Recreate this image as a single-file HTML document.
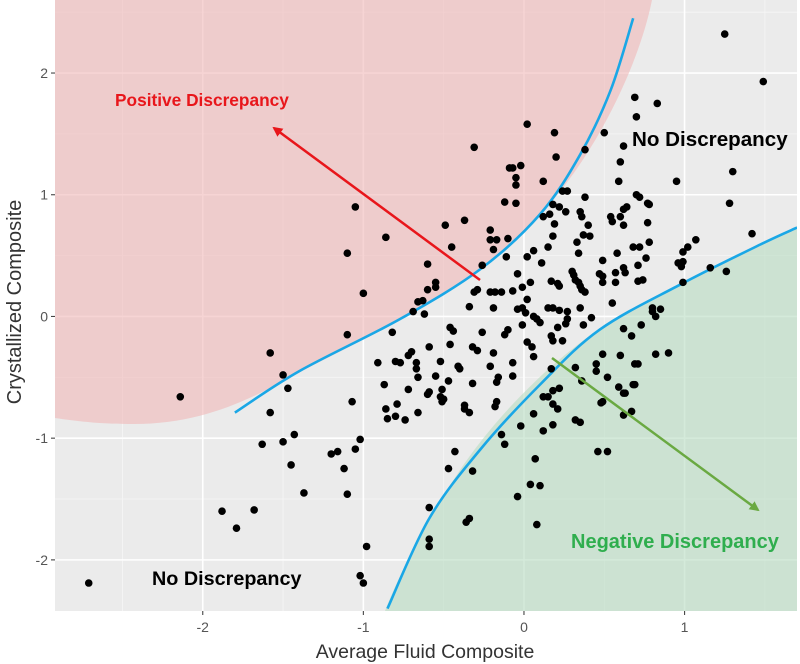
<!DOCTYPE html>
<html><head><meta charset="utf-8"><style>
html,body{margin:0;padding:0;background:#fff;}
svg{display:block;font-family:"Liberation Sans",Arial,sans-serif;}
</style></head><body>
<svg id="chart" width="800" height="664" viewBox="0 0 800 664">
<defs>
<clipPath id="panelClip"><rect x="55" y="0" width="742" height="611"/></clipPath>
<marker id="redHead" markerWidth="10" markerHeight="10" refX="8" refY="5" orient="auto" markerUnits="userSpaceOnUse"><path d="M0,0 L10,5 L0,10 z" fill="#e8161b"/></marker>
<marker id="greenHead" markerWidth="10" markerHeight="10" refX="8" refY="5" orient="auto" markerUnits="userSpaceOnUse"><path d="M0,0 L10,5 L0,10 z" fill="#6aa942"/></marker>
</defs>
<rect x="55" y="0" width="742" height="611" fill="#ebebeb"/>
<g id="grid"></g>
<g clip-path="url(#panelClip)">
<path d="M55,0 L652,0 C640,60 600,150 540,215 C470,290 400,320 300,372 C250,400 200,425 130,424 C100,424 75,421 55,418 Z" fill="#f0b8b8" opacity="0.6"/>
<path d="M797,226 C760,245 700,275 640,305 C570,340 500,410 460,470 C420,530 395,585 385,611 L797,611 Z" fill="#b7dcc2" opacity="0.6"/>
<g id="curves"></g>
<g id="points"></g>
</g>
<line x1="480" y1="280" x2="274" y2="128" stroke="#e8161b" stroke-width="2.5" marker-end="url(#redHead)"/>
<line x1="552" y1="358" x2="758" y2="510" stroke="#6aa942" stroke-width="2.5" marker-end="url(#greenHead)"/>
<text x="115" y="106" font-size="17.3" font-weight="bold" fill="#e8161b">Positive Discrepancy</text>
<text x="632" y="146" font-size="20.6" font-weight="bold" fill="#000">No Discrepancy</text>
<text x="152" y="585" font-size="19.8" font-weight="bold" fill="#000">No Discrepancy</text>
<text x="571" y="548" font-size="20" font-weight="bold" fill="#2fae4e">Negative Discrepancy</text>
<g id="axes"></g>
<text x="425" y="658" font-size="19.5" fill="#333" text-anchor="middle">Average Fluid Composite</text>
<text transform="translate(21,302) rotate(-90)" font-size="20" fill="#333" text-anchor="middle">Crystallized Composite</text>
</svg>
<script>
const xTicks = [-2, -1, 0, 1];
const yTicks = [-2, -1, 0, 1, 2];
const xVals = [-2.71,-2.14,-1.88,-1.79,-1.68,-1.58,-1.50,-1.47,-1.58,-1.63,-1.50,-1.45,-1.43,-1.37,-1.20,-1.16,-1.12,-1.10,-1.10,-1.10,-1.05,-1.07,-1.00,-1.02,-1.00,-0.98,-1.02,-1.05,-0.86,-0.91,-0.87,-0.86,-0.85,-0.79,-0.77,-0.74,-0.70,-0.69,-0.66,-0.60,-0.60,-0.55,-0.59,-0.59,-0.59,-0.59,-0.59,-0.55,-0.51,-0.50,-0.52,-0.45,-0.43,-0.37,-0.47,-0.36,-0.34,-0.32,-0.31,-0.37,-0.21,-0.21,-0.17,-0.19,-0.09,-0.07,-0.05,-0.05,-0.02,-0.05,0.02,0.19,0.20,0.38,0.50,0.62,0.60,0.69,0.70,0.83,0.95,1.25,1.49,1.30,1.28,1.07,1.02,0.99,1.16,1.26,1.42,0.99,0.82,0.85,0.82,0.69,0.69,0.63,0.52,0.48,0.62,0.46,0.52,0.32,0.35,0.18,0.15,0.06,-0.02,0.12,-0.14,-0.12,-0.04,0.04,0.10,0.07,0.08,
0.12,-0.12,0.59,0.24,0.27,0.38,0.18,0.22,0.26,0.35,0.36,0.12,0.16,0.19,0.40,0.18,0.37,0.41,0.33,0.34,0.64,0.62,0.60,0.62,0.70,0.72,0.77,0.78,0.54,0.55,0.77,0.78,0.72,0.68,0.58,0.49,0.76,0.71,0.62,0.63,0.57,0.47,0.49,0.57,0.49,0.71,0.74,0.55,0.02,0.06,0.11,0.15,0.30,0.31,0.32,0.34,0.35,0.36,0.38,0.17,0.21,0.22,0.04,-0.04,-0.01,-0.07,-0.14,-0.18,-0.21,-0.29,-0.31,-0.19,-0.34,0.02,-0.04,-0.01,0.01,0.15,0.18,0.22,0.27,0.35,0.42,0.37,0.27,0.26,0.21,0.06,0.08,0.10,-0.01,-0.10,-0.12,-0.26,-0.46,-0.44,-0.46,-0.32,-0.29,-0.19,0.02,0.05,0.06,0.17,0.18,0.24,-0.07,-0.07,-0.21,-0.16,-0.17,-0.32,-0.41,-0.40,-0.55,-0.47,-0.67,-0.67,-0.66,-0.72,-0.80,-0.72,-0.60,-0.52,-0.51,-0.80,-0.66,-0.37,-0.17,-0.18,-0.34,
0.62,0.67,0.73,0.49,0.60,0.45,0.45,0.71,0.90,0.32,0.17,0.36,0.68,0.59,0.62,0.22,0.18,0.12,0.18,0.21,0.49,0.67,0.80,0.80,0.99,0.96,0.98,
-0.49,-0.63,-0.62,-0.82,-0.10,-0.26,-0.11];
const yVals = [-2.19,-0.66,-1.60,-1.74,-1.59,-0.30,-0.48,-0.59,-0.79,-1.05,-1.03,-1.22,-0.97,-1.45,-1.13,-1.11,-1.25,-1.46,-0.15,0.52,0.90,-0.70,0.19,-2.13,-2.19,-1.89,-1.01,-1.09,0.65,-0.38,-0.56,-0.76,-0.84,-0.72,-0.38,-0.85,-0.29,0.04,0.12,0.43,0.22,0.24,-0.62,-0.25,-1.57,-1.83,-1.89,0.28,-0.60,-0.68,-0.37,0.57,-1.11,-0.76,-1.25,-1.69,-1.66,-1.27,1.39,0.79,0.71,0.63,0.63,0.55,1.22,1.22,1.14,1.08,1.24,0.93,1.58,1.51,1.31,1.37,1.51,1.40,1.27,1.80,1.64,1.75,1.11,2.32,1.93,1.19,0.93,0.63,0.57,0.45,0.40,0.37,0.68,0.28,0.00,0.06,-0.31,-0.39,-0.56,-0.63,-0.50,-0.71,-0.81,-1.11,-1.11,-0.85,-0.87,-0.89,-0.66,-0.80,-0.90,-0.94,-0.97,-1.05,-1.48,-1.38,-1.39,-1.17,-1.71,
1.11,0.94,1.11,1.03,1.03,0.98,0.92,0.90,0.86,0.86,0.82,0.82,0.84,0.76,0.75,0.66,0.67,0.66,0.61,0.52,0.90,0.88,0.82,0.75,1.00,0.98,0.93,0.92,0.82,0.78,0.77,0.61,0.57,0.57,0.52,0.46,0.48,0.42,0.40,0.36,0.36,0.35,0.33,0.28,0.28,0.29,0.30,0.11,0.49,0.54,0.44,0.57,0.37,0.34,0.30,0.28,0.25,0.22,0.20,0.29,0.27,0.25,0.28,0.35,0.24,0.21,0.20,0.20,0.20,0.22,0.20,0.07,0.08,0.14,0.06,0.07,0.03,0.07,0.07,0.05,0.04,0.07,-0.01,-0.07,-0.02,-0.06,-0.09,0.00,-0.02,-0.05,-0.07,-0.11,-0.15,-0.13,-0.09,-0.12,-0.23,-0.25,-0.28,-0.30,-0.21,-0.25,-0.33,-0.16,-0.20,-0.20,-0.38,-0.49,-0.41,-0.50,-0.54,-0.55,-0.41,-0.43,-0.49,-0.53,-0.38,-0.43,-0.50,-0.32,-0.37,-0.60,-0.64,-0.66,-0.70,-0.82,-0.79,-0.73,-0.70,-0.74,-0.79,
-0.10,-0.16,-0.07,-0.31,-0.32,-0.39,-0.45,-0.39,-0.30,-0.42,-0.43,-0.53,-0.56,-0.58,-0.63,-0.59,-0.61,-0.66,-0.72,-0.76,-0.70,-0.78,0.07,0.04,0.53,0.44,0.41,
0.75,0.13,0.02,-0.13,0.64,0.42,0.49];
const upperCurveX = [-1.80,-1.40,-0.77,-0.27,0.10,0.35,0.54,0.68];
const upperCurveY = [-0.79,-0.45,-0.02,0.39,0.84,1.33,1.86,2.45];
const lowerCurveX = [-0.85,-0.59,-0.27,0.10,0.47,0.97,1.47,1.70];
const lowerCurveY = [-2.40,-1.66,-1.09,-0.56,-0.11,0.26,0.59,0.73];

const NS = "http://www.w3.org/2000/svg";
const PL = 55, PR = 797, PT = 0, PB = 611;
const xMin = -2.92, xMax = 1.70, yMin = -2.42, yMax = 2.60;
function sx(v){ return PL + (v - xMin) / (xMax - xMin) * (PR - PL); }
function sy(v){ return PB - (v - yMin) / (yMax - yMin) * (PB - PT); }

const grid = document.getElementById('grid');
const axes = document.getElementById('axes');
function ln(parent, x1, y1, x2, y2, stroke, w){
  const l = document.createElementNS(NS, 'line');
  l.setAttribute('x1', x1); l.setAttribute('y1', y1); l.setAttribute('x2', x2); l.setAttribute('y2', y2);
  l.setAttribute('stroke', stroke); l.setAttribute('stroke-width', w);
  parent.appendChild(l);
  return l;
}
for (let i = 0; i <= xTicks.length; i++) {
  const mv = xTicks[0] - 0.5 + i;
  if (mv > xMin && mv < xMax) {
    const g = ln(grid, sx(mv), PT, sx(mv), PB, '#f6f6f6', 0.8);
    
    
  }
}
for (let i = 0; i <= yTicks.length; i++) {
  const mv = yTicks[0] - 0.5 + i;
  if (mv > yMin && mv < yMax) {
    const g = ln(grid, PL, sy(mv), PR, sy(mv), '#f6f6f6', 0.8);
    
    
  }
}
xTicks.forEach(t => {
  const g = ln(grid, sx(t), PT, sx(t), PB, '#ffffff', 1.6);
  
  
  const tk = ln(axes, sx(t), PB, sx(t), PB + 4, '#444', 1.1);
  
  
  const tx = document.createElementNS(NS, 'text');
  tx.setAttribute('x', sx(t)); tx.setAttribute('y', PB + 21);
  tx.setAttribute('text-anchor', 'middle'); tx.setAttribute('font-size', '14'); tx.setAttribute('fill', '#555');
  tx.textContent = t;
  
  
  axes.appendChild(tx);
});
yTicks.forEach(t => {
  const g = ln(grid, PL, sy(t), PR, sy(t), '#ffffff', 1.6);
  
  
  const tk = ln(axes, PL - 4, sy(t), PL, sy(t), '#444', 1.1);
  
  
  const tx = document.createElementNS(NS, 'text');
  tx.setAttribute('x', PL - 7); tx.setAttribute('y', sy(t) + 5);
  tx.setAttribute('text-anchor', 'end'); tx.setAttribute('font-size', '14'); tx.setAttribute('fill', '#555');
  tx.textContent = t;
  
  
  axes.appendChild(tx);
});

function smoothPath(xs, ys){
  const p = xs.map((x, i) => [sx(x), sy(ys[i])]);
  let d = 'M' + p[0][0] + ',' + p[0][1];
  for (let i = 0; i < p.length - 1; i++) {
    const p0 = p[i - 1] || p[i], p1 = p[i], p2 = p[i + 1], p3 = p[i + 2] || p2;
    const c1x = p1[0] + (p2[0] - p0[0]) / 6, c1y = p1[1] + (p2[1] - p0[1]) / 6;
    const c2x = p2[0] - (p3[0] - p1[0]) / 6, c2y = p2[1] - (p3[1] - p1[1]) / 6;
    d += ' C' + c1x + ',' + c1y + ' ' + c2x + ',' + c2y + ' ' + p2[0] + ',' + p2[1];
  }
  return d;
}
const curves = document.getElementById('curves');
const up = document.createElementNS(NS, 'path');
up.setAttribute('d', smoothPath(upperCurveX, upperCurveY));
up.setAttribute('fill', 'none'); up.setAttribute('stroke', '#1aa7e6'); up.setAttribute('stroke-width', '2.6');


curves.appendChild(up);
const lo = document.createElementNS(NS, 'path');
lo.setAttribute('d', smoothPath(lowerCurveX, lowerCurveY));
lo.setAttribute('fill', 'none'); lo.setAttribute('stroke', '#1aa7e6'); lo.setAttribute('stroke-width', '2.6');


curves.appendChild(lo);

const pts = document.getElementById('points');
const n = Math.min(xVals.length, yVals.length);
for (let i = 0; i < n; i++) {
  const c = document.createElementNS(NS, 'circle');
  c.setAttribute('cx', sx(xVals[i])); c.setAttribute('cy', sy(yVals[i])); c.setAttribute('r', 3.8);
  c.setAttribute('fill', '#000');
  
  
  pts.appendChild(c);
}
</script>
</body></html>
